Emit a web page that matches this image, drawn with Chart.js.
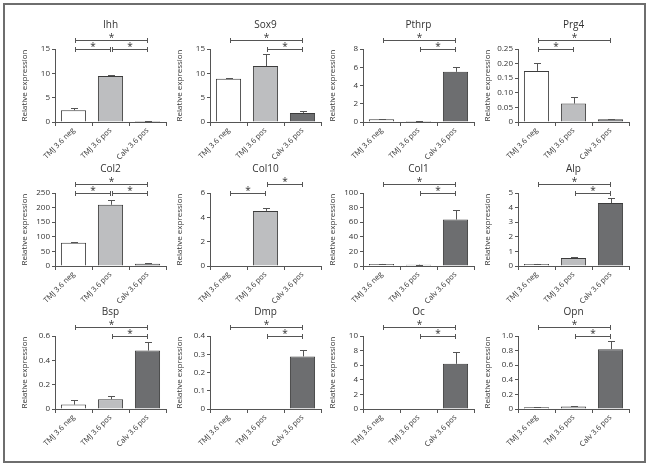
<!DOCTYPE html>
<html>
<head>
<meta charset="utf-8">
<script src="https://cdn.jsdelivr.net/npm/chart.js@4.4.1/dist/chart.umd.min.js"></script>
<style>
  body { margin: 0; background: #fff; width: 649px; height: 466px; position: relative; overflow: hidden; }
  #frame { position: absolute; left: 3px; top: 3px; width: 639px; height: 456px; border: 2px solid #6e6e6e; }
  canvas { position: absolute; }
</style>
</head>
<body>
<div id="frame"></div>
<script>
// groups on every x axis
const categories = ['TMJ 3.6 neg', 'TMJ 3.6 pos', 'Calv 3.6 pos'];
const genes = ['Ihh', 'Sox9', 'Pthrp', 'Prg4', 'Col2', 'Col10', 'Col1', 'Alp', 'Bsp', 'Dmp', 'Oc', 'Opn'];

// mean relative expression
const ihh   = [2.42, 9.47, 0.2];
const sox9  = [8.9, 11.5, 1.87];
const pthrp = [0.3, 0.1, 5.5];
const prg4  = [0.175, 0.063, 0.009];
const col2  = [79.5, 209.7, 8];
const col10 = [0, 4.53, 0];
const col1  = [2.8, 1.8, 63.6];
const alp   = [0.14, 0.55, 4.31];
const bsp   = [0.036, 0.08, 0.48];
const dmp   = [0, 0, 0.288];
const oc    = [0, 0, 6.19];
const opn   = [0.023, 0.033, 0.82];

// error bar (upper half only)
const ihhErr   = [0.48, 0.13, 0.03];
const sox9Err  = [0.2, 2.45, 0.48];
const pthrpErr = [0.05, 0.02, 0.5];
const prg4Err  = [0.026, 0.021, 0.002];
const col2Err  = [1, 17, 1.5];
const col10Err = [0, 0.25, 0];
const col1Err  = [0.3, 0.2, 12.9];
const alpErr   = [0.03, 0.1, 0.32];
const bspErr   = [0.039, 0.028, 0.067];
const dmpErr   = [0, 0, 0.037];
const ocErr    = [0, 0, 1.62];
const opnErr   = [0.003, 0.009, 0.11];

// y axis ticks per panel
const yMax      = [15, 15, 8, 0.25, 250, 6, 100, 5, 0.6, 0.4, 10, 1.0];
const yStep     = [5, 5, 2, 0.05, 50, 2, 20, 1, 0.2, 0.1, 2, 0.2];
const yDecimals = [0, 0, 0, 2, 0, 0, 0, 0, 1, 1, 0, 1];

// significance brackets: [from group, to group, level]
const ihhSig   = [[0, 2, 1], [0, 1, 0], [1, 2, 0]];
const sox9Sig  = [[0, 2, 1], [1, 2, 0]];
const pthrpSig = [[0, 2, 1], [1, 2, 0]];
const prg4Sig  = [[0, 2, 1], [0, 1, 0]];
const col2Sig  = [[0, 2, 1], [0, 1, 0], [1, 2, 0]];
const col10Sig = [[0, 1, 0], [1, 2, 1]];
const col1Sig  = [[0, 2, 1], [1, 2, 0]];
const alpSig   = [[0, 2, 1], [1, 2, 0]];
const bspSig   = [[0, 2, 1], [1, 2, 0]];
const dmpSig   = [[0, 2, 1], [1, 2, 0]];
const ocSig    = [[0, 2, 1], [1, 2, 0]];
const opnSig   = [[0, 2, 1], [1, 2, 0]];

const allValues = [ihh, sox9, pthrp, prg4, col2, col10, col1, alp, bsp, dmp, oc, opn];
const allErrors = [ihhErr, sox9Err, pthrpErr, prg4Err, col2Err, col10Err, col1Err, alpErr, bspErr, dmpErr, ocErr, opnErr];
const allSig = [ihhSig, sox9Sig, pthrpSig, prg4Sig, col2Sig, col10Sig, col1Sig, alpSig, bspSig, dmpSig, ocSig, opnSig];

const barColors = ['#ffffff', '#bdbec0', '#6d6e70'];
const FONT = "'Open Sans', sans-serif";

// layout of the plot areas
const colLeft = [55, 210, 363, 518];
const rowTop = [49, 193, 336];
const PLOT_W = 111, PLOT_H = 73;
const PAD_L = 52, PAD_T = 48, PAD_R = 3, PAD_B = 44;

const extras = {
    id: 'extras',
    afterDraw(chart, args, opts) {
        const ctx = chart.ctx;
        const xs = chart.scales.x, ys = chart.scales.y, area = chart.chartArea;
        ctx.save();
        ctx.strokeStyle = '#555';
        ctx.lineWidth = 1;

        // error bars
        opts.values.forEach((v, i) => {
            const e = opts.errors[i];
            if (!e) return;
            const cx = Math.round(xs.getPixelForValue(i)) + 0.5;
            const y0 = ys.getPixelForValue(v);
            const y1 = Math.round(ys.getPixelForValue(v + e)) + 0.5;
            ctx.beginPath();
            ctx.moveTo(cx, y0);
            ctx.lineTo(cx, y1);
            ctx.moveTo(cx - 3.5, y1);
            ctx.lineTo(cx + 3.5, y1);
            ctx.stroke();
        });

        // significance brackets
        ctx.fillStyle = '#333';
        ctx.textAlign = 'center';
        ctx.textBaseline = 'middle';
        opts.sig.forEach(([a, b, lvl]) => {
            const x0 = Math.round(xs.getPixelForValue(a)) + 1.5;
            const x1 = Math.round(xs.getPixelForValue(b)) - 0.5;
            const yy = Math.round(area.top - lvl * 9) + 0.5;
            ctx.beginPath();
            ctx.moveTo(x0, yy); ctx.lineTo(x1, yy);
            ctx.moveTo(x0, yy - 2.5); ctx.lineTo(x0, yy + 2.5);
            ctx.moveTo(x1, yy - 2.5); ctx.lineTo(x1, yy + 2.5);
            ctx.stroke();
            ctx.font = '10px ' + FONT;
            ctx.fillText('*', (x0 + x1) / 2, yy - 2);
        });

        // panel title
        ctx.font = '10px ' + FONT;
        ctx.fillText(opts.title, (area.left + area.right) / 2, area.top - 24);

        // y axis label
        ctx.font = '8px ' + FONT;
        ctx.translate(area.left - 30, (area.top + area.bottom) / 2);
        ctx.rotate(-Math.PI / 2);
        ctx.fillText('Relative expression', 0, 0);
        ctx.restore();
    }
};

genes.forEach((gene, k) => {
    const canvas = document.createElement('canvas');
    canvas.width = PAD_L + PLOT_W + PAD_R;
    canvas.height = PAD_T + PLOT_H + PAD_B;
    canvas.style.left = (colLeft[k % 4] - PAD_L) + 'px';
    canvas.style.top = (rowTop[Math.floor(k / 4)] - PAD_T) + 'px';
    document.body.appendChild(canvas);

    new Chart(canvas.getContext('2d'), {
        type: 'bar',
        data: {
            labels: categories,
            datasets: [{
                data: allValues[k],
                backgroundColor: barColors,
                borderColor: '#3c3c3c',
                borderWidth: 1,
                borderSkipped: 'start',
                barPercentage: 0.68,
                categoryPercentage: 1
            }]
        },
        options: {
            responsive: false,
            animation: false,
            layout: { padding: { left: 0, top: PAD_T, right: PAD_R, bottom: 0 } },
            plugins: {
                legend: { display: false },
                tooltip: { enabled: false },
                extras: { title: gene, values: allValues[k], errors: allErrors[k], sig: allSig[k] }
            },
            scales: {
                x: {
                    offset: true,
                    grid: { offset: true, drawOnChartArea: false, tickLength: 4, color: '#555' },
                    border: { color: '#555' },
                    ticks: {
                        autoSkip: false, minRotation: 45, maxRotation: 45, padding: 0,
                        color: '#333', font: { family: FONT, size: 7.5 }
                    },
                    afterFit: s => { s.height = PAD_B; }
                },
                y: {
                    min: 0,
                    max: yMax[k],
                    grid: { drawOnChartArea: false, tickLength: 3, color: '#555' },
                    border: { color: '#555' },
                    ticks: {
                        stepSize: yStep[k], padding: 2, color: '#333',
                        font: { family: FONT, size: 8 },
                        callback: v => v === 0 ? '0' : Number(v).toFixed(yDecimals[k])
                    },
                    afterFit: s => { s.width = PAD_L; }
                }
            }
        },
        plugins: [extras]
    });
});
</script>
</body>
</html>
